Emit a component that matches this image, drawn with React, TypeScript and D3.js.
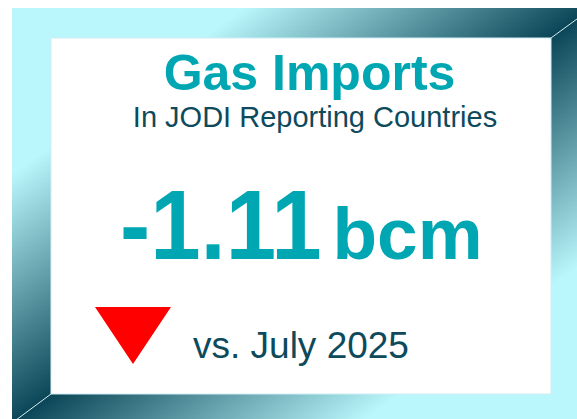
import React, { useRef, useEffect } from "react"
import * as d3 from "d3"

// KPI card data
const titleLines = ["Gas Imports", "In JODI Reporting Countries"]
const kpiValues = [-1.11]
const kpiUnits = ["bcm"]
const comparePeriods = ["July 2025"]

const W = 577
const H = 419
const FONT = "'Liberation Sans', Arial, Helvetica, sans-serif"
const TEAL = "#00a7b2"
const NAVY = "#0d4a5c"
const LIGHT = "#b9f7fc"
const DARK = "#0a4657"

const fmt = d3.formatLocale({
  decimal: ".",
  thousands: ",",
  grouping: [3],
  currency: ["", ""],
  minus: "-",
}).format(".2f")

const KpiCard: React.FC = () => {
  const svgRef = useRef<SVGSVGElement | null>(null)

  useEffect(() => {
    if (!svgRef.current) return
    const svg = d3.select(svgRef.current)
    svg.selectAll("*").remove()

    // frame geometry
    const outer = { x0: 12, y0: 8, x1: 592, y1: 423 }
    const inner = { x0: 51, y0: 38, x1: 551, y1: 394 }

    const defs = svg.append("defs")
    const grad = defs
      .append("linearGradient")
      .attr("id", "frameGrad")
      .attr("x1", 0)
      .attr("y1", 0)
      .attr("x2", 1)
      .attr("y2", 1)
    const stops: [number, string][] = [
      [0, LIGHT],
      [0.2, LIGHT],
      [0.5, DARK],
      [0.8, LIGHT],
      [1, LIGHT],
    ]
    grad
      .selectAll("stop")
      .data(stops)
      .enter()
      .append("stop")
      .attr("offset", (d) => d[0])
      .attr("stop-color", (d) => d[1])

    svg
      .append("rect")
      .attr("x", outer.x0)
      .attr("y", outer.y0)
      .attr("width", outer.x1 - outer.x0)
      .attr("height", outer.y1 - outer.y0)
      .attr("fill", "url(#frameGrad)")

    // bevel seams
    const seams = [
      [[outer.x1, outer.y0], [inner.x1, inner.y0]],
      [[outer.x0, outer.y1], [inner.x0, inner.y1]],
    ] as [number, number][][]
    svg
      .selectAll(".seam")
      .data(seams)
      .enter()
      .append("path")
      .attr("class", "seam")
      .attr("d", (d) => d3.line()(d))
      .attr("stroke", "#d6eef2")
      .attr("stroke-width", 1)
      .attr("fill", "none")

    svg
      .append("rect")
      .attr("x", inner.x0)
      .attr("y", inner.y0)
      .attr("width", inner.x1 - inner.x0)
      .attr("height", inner.y1 - inner.y0)
      .attr("fill", "#ffffff")
      .attr("stroke", "#cfeef3")
      .attr("stroke-width", 1)

    // titles
    svg
      .append("text")
      .attr("x", 309.5)
      .attr("y", 90)
      .attr("text-anchor", "middle")
      .attr("font-family", FONT)
      .attr("font-weight", "bold")
      .attr("font-size", 50)
      .attr("fill", TEAL)
      .text(titleLines[0])

    svg
      .append("text")
      .attr("x", 315)
      .attr("y", 127)
      .attr("text-anchor", "middle")
      .attr("font-family", FONT)
      .attr("font-size", 29)
      .attr("fill", NAVY)
      .text(titleLines[1])

    // big value (slightly condensed) + unit
    const value = kpiValues[0]
    svg
      .append("text")
      .attr("transform", "translate(120,259) scale(0.925,1)")
      .attr("font-family", FONT)
      .attr("font-weight", "bold")
      .attr("font-size", 98)
      .attr("fill", TEAL)
      .text(fmt(value))

    svg
      .append("text")
      .attr("x", 332.5)
      .attr("y", 259)
      .attr("font-family", FONT)
      .attr("font-weight", "bold")
      .attr("font-size", 73)
      .attr("fill", TEAL)
      .text(kpiUnits[0])

    // direction indicator
    const tri = { cx: 133, top: 307, w: 76, h: 57 }
    const dir = value < 0 ? 1 : -1
    const base = dir > 0 ? tri.top : tri.top + tri.h
    const tip = dir > 0 ? tri.top + tri.h : tri.top
    const triPts: [number, number][] = [
      [tri.cx - tri.w / 2, base],
      [tri.cx + tri.w / 2, base],
      [tri.cx, tip],
    ]
    svg
      .append("path")
      .attr("d", d3.line()(triPts) + "Z")
      .attr("fill", value < 0 ? "#ff0000" : "#00b050")

    svg
      .append("text")
      .attr("x", 193)
      .attr("y", 358)
      .attr("font-family", FONT)
      .attr("font-size", 37)
      .attr("fill", NAVY)
      .text(`vs. ${comparePeriods[0]}`)
  }, [])

  return (
    <svg
      ref={svgRef}
      width={W}
      height={H}
      style={{ position: "absolute", left: 0, top: 0, background: "#ffffff" }}
    ></svg>
  )
}

export default function App() {
  return <KpiCard />
}
